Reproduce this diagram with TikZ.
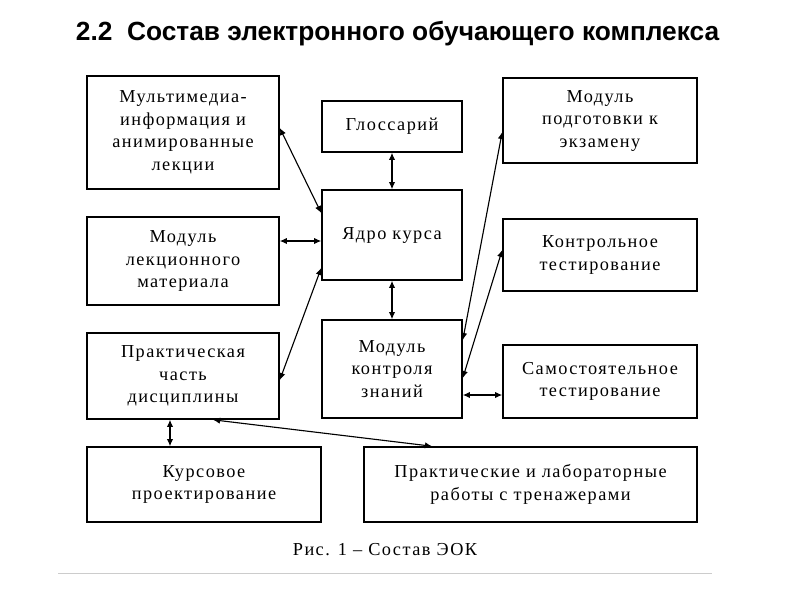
\documentclass[tikz,border=0pt]{standalone}
\usepackage{fontspec}
\setmainfont{Liberation Serif}
\newfontfamily\titlefont{Liberation Sans}
\newfontfamily\boxfont[LetterSpace=8]{Liberation Serif}
\usetikzlibrary{arrows.meta}

\tikzset{
  blok/.style = {draw, line width=1.1pt, align=center, inner sep=2pt,
                 font=\boxfont\fontsize{13}{16}\selectfont},
  link/.style = {line width=0.8pt, {Latex[length=5pt,width=4.5pt]}-{Latex[length=5pt,width=4.5pt]}}
}

\begin{document}
\begin{tikzpicture}[x=0.025cm, y=-0.025cm]
                        \useasboundingbox[fill=white] (0,0) rectangle (800,600);
                        \node[anchor=west, font=\titlefont\bfseries\fontsize{18.7}{22}\selectfont] (head) at (71,34) {2.2\ \ Состав электронного обучающего комплекса};
                        % left column
                        \node[blok, minimum width=4.8cm, minimum height=2.825cm] (multi) at (183,132.5) {Мультимедиа-\\информация и\\анимированные\\лекции};
                        \node[blok, minimum width=4.8cm, minimum height=2.2cm] (lekc) at (183,261) {Модуль\\лекционного\\материала};
                        \node[blok, minimum width=4.8cm, minimum height=2.15cm] (prakt) at (183,376) {Практическая\\часть\\дисциплины};
                        % middle column
                        \node[blok, minimum width=3.5cm, minimum height=1.275cm] (gloss) at (392,126.5) {Глоссарий};
                        \node[blok, minimum width=3.5cm, minimum height=2.25cm] (yadro) at (392,235) {Ядро курса};
                        \node[blok, minimum width=3.5cm, minimum height=2.45cm] (kontr) at (392,369) {Модуль\\контроля\\знаний};
                        % right column
                        \node[blok, minimum width=4.85cm, minimum height=2.125cm] (ekz) at (600,120.5) {Модуль\\подготовки к\\экзамену};
                        \node[blok, minimum width=4.85cm, minimum height=1.8cm] (ktest) at (600,255) {Контрольное\\тестирование};
                        \node[blok, minimum width=4.85cm, minimum height=1.825cm] (stest) at (600,381.5) {Самостоятельное\\тестирование};
                        % bottom row
                        \node[blok, minimum width=5.85cm, minimum height=1.875cm] (kurs) at (204,484.5) {Курсовое\\проектирование};
                        \node[blok, minimum width=8.325cm, minimum height=1.875cm] (labs) at (530.5,484.5) {Практические и лабораторные\\работы с тренажерами};
                        \node[font=\boxfont\fontsize{13}{15}\selectfont] (cap) at (385,550) {Рис. 1 – Состав ЭОК};
                        % connectors
                        \draw[link] (multi.east |- 0,128) to (yadro.west |- 0,213);
                        \draw[link] (gloss.south) to (yadro.north);
                        \draw[link] (lekc.east |- 0,241) to (yadro.west |- 0,241);
                        \draw[link] (yadro.south) to (kontr.north);
                        \draw[link] (prakt.east |- 0,380) to (yadro.west |- 0,268);
                        \draw[link] (ekz.west |- 0,132) to (kontr.east |- 0,340);
                        \draw[link] (ktest.west |- 0,250) to (kontr.east |- 0,378);
                        \draw[link] (kontr.east |- 0,395) to (stest.west |- 0,395);
                        \draw[link] (prakt.south -| 170,0) to (kurs.north -| 170,0);
                        \draw[link] (prakt.south -| 213,0) to (labs.north -| 432,0);
                        \draw[black!20] (58,573) -- (712,573);
\end{tikzpicture}
\end{document}
